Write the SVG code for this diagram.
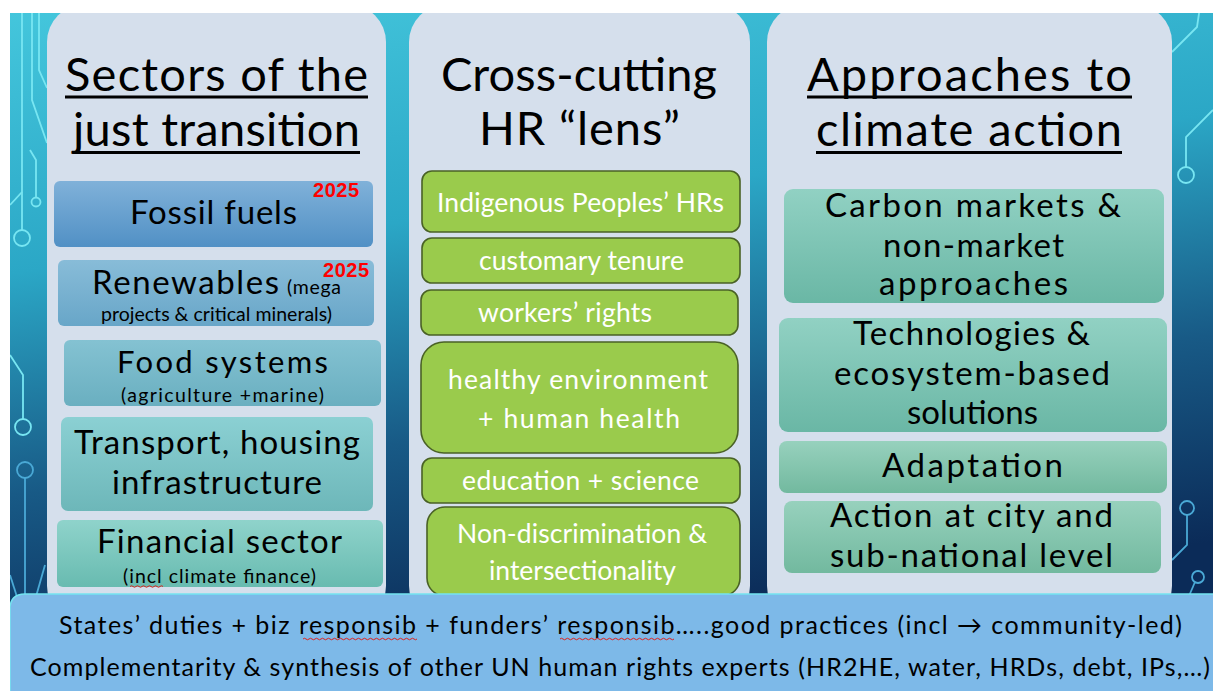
<svg xmlns="http://www.w3.org/2000/svg" width="1213" height="691" viewBox="0 0 1213 691">
  <defs>
    <linearGradient id="bg" gradientUnits="userSpaceOnUse" x1="0" y1="13" x2="90" y2="691">
      <stop offset="0" stop-color="#44c6dc"/>
      <stop offset="0.38" stop-color="#2ba7c6"/>
      <stop offset="0.7" stop-color="#185a86"/>
      <stop offset="1" stop-color="#0b2b58"/>
    </linearGradient>
    <linearGradient id="gFossil" x1="0" y1="0" x2="0" y2="1">
      <stop offset="0" stop-color="#80b1d9"/>
      <stop offset="1" stop-color="#5190c5"/>
    </linearGradient>
    <linearGradient id="gRenew" x1="0" y1="0" x2="0" y2="1">
      <stop offset="0" stop-color="#88bcd8"/>
      <stop offset="1" stop-color="#68a6c8"/>
    </linearGradient>
    <linearGradient id="gFood" x1="0" y1="0" x2="0" y2="1">
      <stop offset="0" stop-color="#84c2d2"/>
      <stop offset="1" stop-color="#6aafc0"/>
    </linearGradient>
    <linearGradient id="gTransport" x1="0" y1="0" x2="0" y2="1">
      <stop offset="0" stop-color="#8bd0d3"/>
      <stop offset="1" stop-color="#6db7b9"/>
    </linearGradient>
    <linearGradient id="gFinance" x1="0" y1="0" x2="0" y2="1">
      <stop offset="0" stop-color="#8fd3cb"/>
      <stop offset="1" stop-color="#68bbb0"/>
    </linearGradient>
    <linearGradient id="gTeal" x1="0" y1="0" x2="0" y2="1">
      <stop offset="0" stop-color="#91d1c3"/>
      <stop offset="1" stop-color="#6ab7a5"/>
    </linearGradient>
    <linearGradient id="gSea" x1="0" y1="0" x2="0" y2="1">
      <stop offset="0" stop-color="#97d1bd"/>
      <stop offset="1" stop-color="#72b99f"/>
    </linearGradient>
    <style>
      text { font-family: Lato, "Noto Sans", "DejaVu Sans", sans-serif; fill: #000; }
      .title { font-size: 47px; text-anchor: middle; }
      .big { font-size: 33px; text-anchor: middle; }
      .small { font-size: 19.5px; text-anchor: middle; }
      .lens { font-size: 26.5px; text-anchor: middle; fill: #fff; }
      .foot { font-size: 25px; text-anchor: middle; }
      .year { font-family: "Liberation Sans", Arial, sans-serif; font-weight: bold; font-size: 20px; fill: #ff0000; }
      .col { fill: #d5dfec; }
      .green { fill: #9acb4c; stroke: #4a6226; stroke-width: 1.6; }
      .trace { fill: none; stroke: #78e6f2; stroke-width: 1.8; }
      .trace2 { fill: none; stroke: #4aa9d6; stroke-width: 1.8; }
      .uline { fill: #000; }
      .squig { fill: none; stroke: #e0201c; stroke-width: 1; }
    </style>
  </defs>

  <!-- backdrop -->
  <rect x="0" y="0" width="1213" height="691" fill="url(#bg)"/>

  <!-- circuit traces, left edge -->
  <g id="traces-left">
    <path class="trace" d="M22 0 V230"/>
    <circle class="trace" cx="22" cy="238" r="8"/>
    <path class="trace" d="M32 0 V100 L47 143"/>
    <path class="trace" d="M39 0 V70 L47 88"/>
    <path class="trace" d="M30 150 L36 160 V197"/>
    <circle class="trace" cx="36" cy="202" r="4.5"/>
    <path class="trace" d="M10 205 L22 192"/>
    <path class="trace" d="M10 355 L23 375 V419"/>
    <circle class="trace" cx="23" cy="427" r="8"/>
    <circle class="trace2" cx="25" cy="470" r="8"/>
    <path class="trace2" d="M25 478 V600"/>
    <path class="trace2" d="M10 575 L18 600"/>
    <path class="trace2" d="M45 565 L35 600"/>
  </g>

  <!-- circuit traces, right edge -->
  <g id="traces-right">
    <path class="trace" d="M1201 0 L1197 27 L1172 52"/>
    <path class="trace" d="M1213 110 L1186 137 V167"/>
    <circle class="trace" cx="1186" cy="175" r="8"/>
    <circle class="trace2" cx="1187" cy="508" r="7"/>
    <path class="trace2" d="M1187 515 V545 L1172 560"/>
    <circle class="trace2" cx="1198" cy="577" r="6"/>
    <path class="trace2" d="M1195 582 L1189 596"/>
  </g>

  <!-- column panels -->
  <rect id="col-sectors" class="col" x="47" y="4" width="339" height="620" rx="38"/>
  <rect id="col-lens" class="col" x="409" y="4" width="341" height="620" rx="38"/>
  <rect id="col-approaches" class="col" x="767" y="4" width="405" height="620" rx="38"/>

  <!-- column 1: sectors -->
  <g id="head-sectors">
    <text class="title" x="216.5" y="90.5" textLength="303">Sectors of the</text>
    <rect class="uline" x="65" y="95.5" width="303" height="3"/>
    <text class="title" x="216.5" y="146" textLength="287">just transition</text>
    <rect class="uline" x="73" y="151" width="287" height="3"/>
  </g>
  <g id="node-fossil">
    <rect x="54" y="181" width="319" height="66" rx="6" fill="url(#gFossil)"/>
    <text class="big" x="213.5" y="224" textLength="167">Fossil fuels</text>
    <text class="year" x="313" y="197" textLength="46">2025</text>
  </g>
  <g id="node-renewables">
    <rect x="58" y="260" width="316" height="66" rx="6" fill="url(#gRenew)"/>
    <text x="92" y="294"><tspan style="font-size:33px" textLength="187">Renewables</tspan><tspan style="font-size:19.5px" x="287" textLength="54">(mega</tspan></text>
    <text class="small" x="216.5" y="321" textLength="231">projects &amp; critical minerals)</text>
    <text class="year" x="323" y="277" textLength="46">2025</text>
  </g>
  <g id="node-food">
    <rect x="64" y="340" width="317" height="66" rx="6" fill="url(#gFood)"/>
    <text class="big" x="222.5" y="372.5" style="font-size:31px" textLength="211">Food systems</text>
    <text class="small" x="222.5" y="402" textLength="203">(agriculture +marine)</text>
  </g>
  <g id="node-transport">
    <rect x="61" y="417" width="312" height="94" rx="7" fill="url(#gTransport)"/>
    <text class="big" x="217" y="454" textLength="286">Transport, housing</text>
    <text class="big" x="217" y="494" textLength="210">infrastructure</text>
  </g>
  <g id="node-finance">
    <rect x="57" y="520" width="326" height="67" rx="6" fill="url(#gFinance)"/>
    <text class="big" x="219.5" y="553" textLength="245">Financial sector</text>
    <text class="small" x="219.5" y="583" textLength="193">(incl climate finance)</text>
    <path class="squig" d="M130 586.5 q1.5 -1.5 3 0 t3 0 t3 0 t3 0 t3 0 t3 0 t3 0 t3 0 t3 0 t3 0 t3 0"/>
  </g>

  <!-- column 2: human rights lens -->
  <g id="head-lens">
    <text class="title" x="579" y="90.5" textLength="276">Cross-cutting</text>
    <text class="title" x="579.5" y="145" textLength="201">HR “lens”</text>
  </g>
  <g id="node-indigenous">
    <rect class="green" x="422" y="171" width="318" height="61" rx="10"/>
    <text class="lens" x="580.5" y="212" textLength="287">Indigenous Peoples’ HRs</text>
  </g>
  <g id="node-tenure">
    <rect class="green" x="422" y="238" width="318" height="45" rx="10"/>
    <text class="lens" x="581.5" y="270" textLength="205">customary tenure</text>
  </g>
  <g id="node-workers">
    <rect class="green" x="421" y="290" width="317" height="45" rx="10"/>
    <text class="lens" x="565" y="322" textLength="174">workers’ rights</text>
  </g>
  <g id="node-health">
    <rect class="green" x="421" y="342" width="317" height="111" rx="23"/>
    <text class="lens" x="578" y="389" textLength="260">healthy environment</text>
    <text class="lens" x="579" y="428" textLength="202">+ human health</text>
  </g>
  <g id="node-education">
    <rect class="green" x="422" y="458" width="318" height="45" rx="10"/>
    <text class="lens" x="580.5" y="490" textLength="237">education + science</text>
  </g>
  <g id="node-nondiscrimination">
    <rect class="green" x="427" y="507" width="313" height="89" rx="18"/>
    <text class="lens" x="582" y="543" textLength="250">Non-discrimination &amp;</text>
    <text class="lens" x="582.5" y="580" textLength="187">intersectionality</text>
  </g>

  <!-- column 3: approaches -->
  <g id="head-approaches">
    <text class="title" x="969.5" y="90.5" textLength="325">Approaches to</text>
    <rect class="uline" x="807" y="95.5" width="325" height="3"/>
    <text class="title" x="969" y="146" textLength="306">climate action</text>
    <rect class="uline" x="816" y="151" width="306" height="3"/>
  </g>
  <g id="node-carbon">
    <rect x="784" y="189" width="380" height="114" rx="9" fill="url(#gTeal)"/>
    <text class="big" x="973" y="217" textLength="296">Carbon markets &amp;</text>
    <text class="big" x="973.5" y="257" textLength="181">non-market</text>
    <text class="big" x="973.5" y="295" textLength="189">approaches</text>
  </g>
  <g id="node-technologies">
    <rect x="779" y="318" width="388" height="114" rx="9" fill="url(#gTeal)"/>
    <text class="big" x="971.5" y="345" textLength="237">Technologies &amp;</text>
    <text class="big" x="972" y="385" textLength="276">ecosystem-based</text>
    <text class="big" x="972.5" y="424" textLength="131">solutions</text>
  </g>
  <g id="node-adaptation">
    <rect x="779" y="441" width="388" height="52" rx="8" fill="url(#gSea)"/>
    <text class="big" x="972.5" y="477" textLength="181">Adaptation</text>
  </g>
  <g id="node-city">
    <rect x="784" y="501" width="377" height="72" rx="8" fill="url(#gSea)"/>
    <text class="big" x="971.5" y="527" textLength="283">Action at city and</text>
    <text class="big" x="971.5" y="567" textLength="283">sub-national level</text>
  </g>

  <!-- footer band -->
  <g id="footer">
    <path d="M10 691 V609 Q10 594 25 594 H1213 V691 Z" fill="#7db9e8"/>
    <path d="M10 691 V609 Q10 594 25 594 H1213" fill="none" stroke="#74e4f0" stroke-width="1.5"/>
    <text class="foot" x="620.5" y="634" textLength="1123">States’ duties + biz responsib + funders’ responsib…..good practices (incl → community-led)</text>
    <path class="squig" d="M303 639 q1.5 -1.5 3 0 t3 0 t3 0 t3 0 t3 0 t3 0 t3 0 t3 0 t3 0 t3 0 t3 0 t3 0 t3 0 t3 0 t3 0 t3 0 t3 0 t3 0 t3 0 t3 0 t3 0 t3 0 t3 0 t3 0 t3 0 t3 0 t3 0 t3 0 t3 0 t3 0 t3 0 t3 0 t3 0 t3 0 t3 0 t3 0 t3 0 t3 0"/>
    <path class="squig" d="M560 639 q1.5 -1.5 3 0 t3 0 t3 0 t3 0 t3 0 t3 0 t3 0 t3 0 t3 0 t3 0 t3 0 t3 0 t3 0 t3 0 t3 0 t3 0 t3 0 t3 0 t3 0 t3 0 t3 0 t3 0 t3 0 t3 0 t3 0 t3 0 t3 0 t3 0 t3 0 t3 0 t3 0 t3 0 t3 0 t3 0 t3 0 t3 0 t3 0 t3 0"/>
    <text class="foot" x="620" y="676" textLength="1180">Complementarity &amp; synthesis of other UN human rights experts (HR2HE, water, HRDs, debt, IPs,…)</text>
  </g>

  <!-- page margins -->
  <rect x="0" y="0" width="1213" height="13" fill="#ffffff"/>
  <rect x="0" y="0" width="10" height="691" fill="#ffffff"/>
</svg>
